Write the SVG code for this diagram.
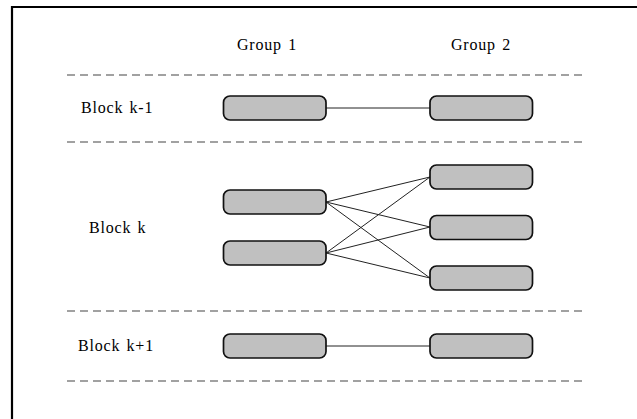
<svg xmlns="http://www.w3.org/2000/svg" width="637" height="419" viewBox="0 0 637 419">
<style>
.lbl{font-family:"Liberation Serif","DejaVu Serif",serif;font-size:16px;fill:#000;letter-spacing:0.8px;word-spacing:1.5px}
.box{fill:#c0c0c0;stroke:#111;stroke-width:1.7}
.sep{stroke:#444;stroke-width:1.1;stroke-dasharray:8,5;fill:none}
.edge{stroke:#222;stroke-width:1;fill:none}
</style>
<rect width="637" height="419" fill="#fff"/>
<path d="M12,419 V7 H637" fill="none" stroke="#000" stroke-width="2.2"/>
<g id="separators">
<line class="sep" x1="67" y1="75" x2="586" y2="75"/>
<line class="sep" x1="67" y1="142" x2="586" y2="142"/>
<line class="sep" x1="67" y1="311" x2="586" y2="311"/>
<line class="sep" x1="67" y1="381" x2="586" y2="381"/>
</g>
<g id="headers">
<text class="lbl" x="267" y="50" text-anchor="middle">Group 1</text>
<text class="lbl" x="481" y="50" text-anchor="middle">Group 2</text>
</g>
<g id="rowlabels">
<text class="lbl" x="81" y="113">Block k-1</text>
<text class="lbl" x="89" y="233">Block k</text>
<text class="lbl" x="78" y="351">Block k+1</text>
</g>
<g id="connectors">
<line class="edge" x1="326" y1="108" x2="430" y2="108"/>
<line class="edge" x1="326" y1="202" x2="430" y2="177"/>
<line class="edge" x1="326" y1="202" x2="430" y2="227"/>
<line class="edge" x1="326" y1="202" x2="430" y2="278"/>
<line class="edge" x1="326" y1="253" x2="430" y2="177"/>
<line class="edge" x1="326" y1="253" x2="430" y2="227"/>
<line class="edge" x1="326" y1="253" x2="430" y2="278"/>
<line class="edge" x1="326" y1="346" x2="430" y2="346"/>
</g>
<g id="g1-km1"><rect class="box" x="223.5" y="96" width="102.5" height="24" rx="6.5"/></g>
<g id="g2-km1"><rect class="box" x="430" y="96" width="102.5" height="24" rx="6.5"/></g>
<g id="g1-k-a"><rect class="box" x="223.5" y="190" width="102.5" height="24" rx="6.5"/></g>
<g id="g1-k-b"><rect class="box" x="223.5" y="241" width="102.5" height="24" rx="6.5"/></g>
<g id="g2-k-a"><rect class="box" x="430" y="165" width="102.5" height="24" rx="6.5"/></g>
<g id="g2-k-b"><rect class="box" x="430" y="215.5" width="102.5" height="24" rx="6.5"/></g>
<g id="g2-k-c"><rect class="box" x="430" y="266" width="102.5" height="24" rx="6.5"/></g>
<g id="g1-kp1"><rect class="box" x="223.5" y="334" width="102.5" height="24" rx="6.5"/></g>
<g id="g2-kp1"><rect class="box" x="430" y="334" width="102.5" height="24" rx="6.5"/></g>
</svg>
